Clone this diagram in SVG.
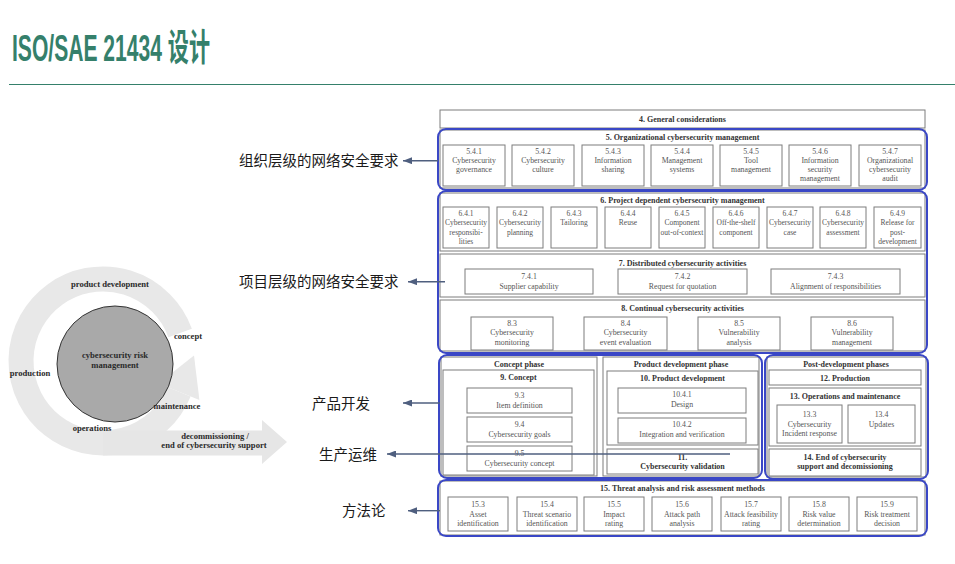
<svg xmlns="http://www.w3.org/2000/svg" width="955" height="564" viewBox="0 0 955 564">
<defs>
<style>
.title{font-family:"Liberation Sans","Noto Sans CJK SC",sans-serif;font-weight:bold;font-size:37px;fill:#35806b}
.lt{font-family:"Liberation Serif",serif;font-weight:bold;font-size:8.6px;fill:#2a2a2a;text-anchor:middle}
.g{fill:#fff;stroke:#7d7d7d;stroke-width:1}
.bl{fill:none;stroke:#3a47c6;stroke-width:2}
.st{font-family:"Liberation Serif",serif;font-weight:bold;font-size:8px;fill:#333;text-anchor:middle}
.bt{font-family:"Liberation Serif",serif;font-size:7.8px;fill:#555;text-anchor:middle}
.bs{font-family:"Liberation Serif",serif;font-size:7.5px;fill:#555;text-anchor:middle}
.cn{font-family:"Noto Sans CJK SC",sans-serif;font-size:14.5px;fill:#1a1a1a}
.arr{stroke:#4f5f7f;stroke-width:1.4;fill:none;marker-end:url(#ah)}
</style>
<marker id="ah" markerUnits="userSpaceOnUse" markerWidth="9" markerHeight="7" refX="9" refY="3.5" orient="auto"><path d="M0,0 L9,3.5 L0,7 z" fill="#4f5f7f"/></marker>
</defs>
<rect width="955" height="564" fill="#fff"/>
<g id="header">
<text class="title" x="12" y="61" textLength="198" lengthAdjust="spacingAndGlyphs">ISO/SAE 21434 设计</text>
<line x1="9" y1="84.5" x2="955" y2="84.5" stroke="#35806b" stroke-width="1.2"/>
</g>
<g id="lifecycle">
<path d="M180.1,333 A82,82 0 1 0 179,391.7" stroke="#e8e8e8" stroke-width="25" fill="none"/>
<polygon points="199.4,399.9 158.6,383.5 194,355.5" fill="#e8e8e8"/>
<polygon points="103,430.5 262,430.5 262,420 287,442 262,464 262,455.5 103,455.5" fill="#e6e6e6"/>
<circle cx="115" cy="364" r="58" fill="#a9a9a9" stroke="#333" stroke-width="1"/>
<text class="lt" x="115" y="358">cybersecurity risk</text>
<text class="lt" x="115" y="367.5">management</text>
<text class="lt" x="110" y="287">product development</text>
<text class="lt" x="188" y="339">concept</text>
<text class="lt" x="30" y="376">production</text>
<text class="lt" x="177" y="409">maintenance</text>
<text class="lt" x="92" y="431">operations</text>
<text class="lt" x="215" y="439">decommissioning /</text>
<text class="lt" x="214" y="447.5">end of cybersecurity support</text>
</g>
<g id="s4"><rect class="g" x="440" y="110" width="485" height="18"/><text class="st" x="682.5" y="122">4. General considerations</text></g>
<g id="s5">
<rect class="g" x="440" y="130" width="485" height="58"/>
<rect class="bl" x="438" y="129" width="489" height="61" rx="8"/>
<text class="st" x="682.5" y="140">5. Organizational cybersecurity management</text>
<g id="b541"><rect class="g" x="443" y="145" width="62" height="41"/><text class="bt" x="474" y="153.5">5.4.1<tspan x="474" dy="9">Cybersecurity</tspan><tspan x="474" dy="9">governance</tspan></text></g>
<g id="b542"><rect class="g" x="512" y="145" width="62" height="41"/><text class="bt" x="543" y="153.5">5.4.2<tspan x="543" dy="9">Cybersecurity</tspan><tspan x="543" dy="9">culture</tspan></text></g>
<g id="b543"><rect class="g" x="582" y="145" width="62" height="41"/><text class="bt" x="613" y="153.5">5.4.3<tspan x="613" dy="9">Information</tspan><tspan x="613" dy="9">sharing</tspan></text></g>
<g id="b544"><rect class="g" x="651" y="145" width="62" height="41"/><text class="bt" x="682" y="153.5">5.4.4<tspan x="682" dy="9">Management</tspan><tspan x="682" dy="9">systems</tspan></text></g>
<g id="b545"><rect class="g" x="720" y="145" width="62" height="41"/><text class="bt" x="751" y="153.5">5.4.5<tspan x="751" dy="9">Tool</tspan><tspan x="751" dy="9">management</tspan></text></g>
<g id="b546"><rect class="g" x="789" y="145" width="62" height="41"/><text class="bt" x="820" y="153.5">5.4.6<tspan x="820" dy="9">Information</tspan><tspan x="820" dy="9">security</tspan><tspan x="820" dy="9">management</tspan></text></g>
<g id="b547"><rect class="g" x="859" y="145" width="62" height="41"/><text class="bt" x="890" y="153.5">5.4.7<tspan x="890" dy="9">Organizational</tspan><tspan x="890" dy="9">cybersecurity</tspan><tspan x="890" dy="9">audit</tspan></text></g>
</g>
<g id="s678">
<rect class="g" x="440" y="193" width="485" height="58"/>
<rect class="g" x="440" y="254" width="485" height="43"/>
<rect class="g" x="440" y="300" width="485" height="51"/>
<rect class="bl" x="438" y="191" width="489" height="162" rx="8"/>
<text class="st" x="682.5" y="203">6. Project dependent cybersecurity management</text>
<g id="b641"><rect class="g" x="443" y="207" width="46" height="41"/><text class="bs" x="466" y="216">6.4.1<tspan x="466" dy="9.3">Cybersecurity</tspan><tspan x="466" dy="9.3">responsibi-</tspan><tspan x="466" dy="9.3">lities</tspan></text></g>
<g id="b642"><rect class="g" x="497" y="207" width="46" height="41"/><text class="bs" x="520" y="216">6.4.2<tspan x="520" dy="9.3">Cybersecurity</tspan><tspan x="520" dy="9.3">planning</tspan></text></g>
<g id="b643"><rect class="g" x="551" y="207" width="46" height="41"/><text class="bs" x="574" y="216">6.4.3<tspan x="574" dy="9.3">Tailoring</tspan></text></g>
<g id="b644"><rect class="g" x="605" y="207" width="46" height="41"/><text class="bs" x="628" y="216">6.4.4<tspan x="628" dy="9.3">Reuse</tspan></text></g>
<g id="b645"><rect class="g" x="659" y="207" width="46" height="41"/><text class="bs" x="682" y="216">6.4.5<tspan x="682" dy="9.3">Component</tspan><tspan x="682" dy="9.3">out-of-context</tspan></text></g>
<g id="b646"><rect class="g" x="713" y="207" width="46" height="41"/><text class="bs" x="736" y="216">6.4.6<tspan x="736" dy="9.3">Off-the-shelf</tspan><tspan x="736" dy="9.3">component</tspan></text></g>
<g id="b647"><rect class="g" x="767" y="207" width="46" height="41"/><text class="bs" x="790" y="216">6.4.7<tspan x="790" dy="9.3">Cybersecurity</tspan><tspan x="790" dy="9.3">case</tspan></text></g>
<g id="b648"><rect class="g" x="820" y="207" width="46" height="41"/><text class="bs" x="843" y="216">6.4.8<tspan x="843" dy="9.3">Cybersecurity</tspan><tspan x="843" dy="9.3">assessment</tspan></text></g>
<g id="b649"><rect class="g" x="874" y="207" width="47" height="41"/><text class="bs" x="897.5" y="216">6.4.9<tspan x="897.5" dy="9.3">Release for</tspan><tspan x="897.5" dy="9.3">post-</tspan><tspan x="897.5" dy="9.3">development</tspan></text></g>
<text class="st" x="682.5" y="265.5">7. Distributed cybersecurity activities</text>
<g id="b741"><rect class="g" x="465" y="269" width="128" height="25"/><text class="bt" x="529" y="278.5">7.4.1<tspan x="529" dy="10">Supplier capability</tspan></text></g>
<g id="b742"><rect class="g" x="618" y="269" width="129" height="25"/><text class="bt" x="682.5" y="278.5">7.4.2<tspan x="682.5" dy="10">Request for quotation</tspan></text></g>
<g id="b743"><rect class="g" x="771" y="269" width="129" height="25"/><text class="bt" x="835.5" y="278.5">7.4.3<tspan x="835.5" dy="10">Alignment of responsibilities</tspan></text></g>
<text class="st" x="682.5" y="310.5">8. Continual cybersecurity activities</text>
<g id="b83"><rect class="g" x="471" y="317" width="82" height="33"/><text class="bt" x="512" y="325.5">8.3<tspan x="512" dy="9.5">Cybersecurity</tspan><tspan x="512" dy="9.5">monitoring</tspan></text></g>
<g id="b84"><rect class="g" x="584" y="317" width="83" height="33"/><text class="bt" x="625.5" y="325.5">8.4<tspan x="625.5" dy="9.5">Cybersecurity</tspan><tspan x="625.5" dy="9.5">event evaluation</tspan></text></g>
<g id="b85"><rect class="g" x="698" y="317" width="82" height="33"/><text class="bt" x="739" y="325.5">8.5<tspan x="739" dy="9.5">Vulnerability</tspan><tspan x="739" dy="9.5">analysis</tspan></text></g>
<g id="b86"><rect class="g" x="811" y="317" width="82" height="33"/><text class="bt" x="852" y="325.5">8.6<tspan x="852" dy="9.5">Vulnerability</tspan><tspan x="852" dy="9.5">management</tspan></text></g>
</g>
<g id="concept">
<rect class="g" x="441" y="357" width="156" height="119"/>
<text class="st" x="519" y="366.5">Concept phase</text>
<rect class="g" x="443" y="370" width="151" height="105"/>
<text class="st" x="518.5" y="380">9. Concept</text>
<g id="b93"><rect class="g" x="467" y="388" width="105" height="25"/><text class="bt" x="519.5" y="398">9.3<tspan x="519.5" dy="9.5">Item definition</tspan></text></g>
<g id="b94"><rect class="g" x="467" y="417" width="105" height="25"/><text class="bt" x="519.5" y="427">9.4<tspan x="519.5" dy="9.5">Cybersecurity goals</tspan></text></g>
<g id="b95"><rect class="g" x="467" y="446" width="105" height="25"/><text class="bt" x="519.5" y="456">9.5<tspan x="519.5" dy="9.5">Cybersecurity concept</tspan></text></g>
</g>
<g id="productdev">
<rect class="g" x="603" y="357" width="156" height="119"/>
<text class="st" x="681" y="366.5">Product development phase</text>
<rect class="g" x="607" y="371" width="151" height="74"/>
<text class="st" x="682.5" y="380.5">10. Product development</text>
<g id="b1041"><rect class="g" x="618" y="388" width="128" height="25"/><text class="bt" x="682" y="397">10.4.1<tspan x="682" dy="10">Design</tspan></text></g>
<g id="b1042"><rect class="g" x="618" y="418" width="128" height="25"/><text class="bt" x="682" y="427">10.4.2<tspan x="682" dy="10">Integration and verification</tspan></text></g>
<g id="b11"><rect class="g" x="607" y="449" width="151" height="25"/><text class="st" x="682.5" y="460">11.<tspan x="682.5" dy="9">Cybersecurity validation</tspan></text></g>
</g>
<rect class="bl" x="439" y="355" width="323" height="123" rx="8"/>
<g id="postdev">
<rect class="g" x="767" y="357" width="159" height="120"/>
<text class="st" x="846" y="366.5">Post-development phases</text>
<g id="b12"><rect class="g" x="769" y="370" width="152" height="15"/><text class="st" x="845" y="380.5">12. Production</text></g>
<rect class="g" x="769" y="388" width="152" height="58"/>
<text class="st" x="845" y="399">13. Operations and maintenance</text>
<g id="b133"><rect class="g" x="777" y="405" width="65" height="38"/><text class="bt" x="809.5" y="417">13.3<tspan x="809.5" dy="9.5">Cybersecurity</tspan><tspan x="809.5" dy="9.5">Incident response</tspan></text></g>
<g id="b134"><rect class="g" x="848" y="405" width="67" height="38"/><text class="bt" x="881.5" y="417">13.4<tspan x="881.5" dy="9.5">Updates</tspan></text></g>
<g id="b14"><rect class="g" x="769" y="449" width="152" height="27"/><text class="st" x="845" y="460">14. End of cybersecurity<tspan x="845" dy="9">support and decomissioning</tspan></text></g>
<rect class="bl" x="765" y="355" width="163" height="124" rx="8"/>
</g>
<g id="s15">
<rect class="g" x="440" y="481" width="485" height="54"/>
<rect class="bl" x="438" y="480" width="489" height="56" rx="8"/>
<text class="st" x="682.5" y="491">15. Threat analysis and risk assessment methods</text>
<g id="b153"><rect class="g" x="448" y="497" width="60" height="34"/><text class="bt" x="478" y="507">15.3<tspan x="478" dy="9.5">Asset</tspan><tspan x="478" dy="9.5">identification</tspan></text></g>
<g id="b154"><rect class="g" x="517" y="497" width="60" height="34"/><text class="bt" x="547" y="507">15.4<tspan x="547" dy="9.5">Threat scenario</tspan><tspan x="547" dy="9.5">identification</tspan></text></g>
<g id="b155"><rect class="g" x="584" y="497" width="60" height="34"/><text class="bt" x="614" y="507">15.5<tspan x="614" dy="9.5">Impact</tspan><tspan x="614" dy="9.5">rating</tspan></text></g>
<g id="b156"><rect class="g" x="652" y="497" width="60" height="34"/><text class="bt" x="682" y="507">15.6<tspan x="682" dy="9.5">Attack path</tspan><tspan x="682" dy="9.5">analysis</tspan></text></g>
<g id="b157"><rect class="g" x="721" y="497" width="60" height="34"/><text class="bt" x="751" y="507">15.7<tspan x="751" dy="9.5">Attack feasibility</tspan><tspan x="751" dy="9.5">rating</tspan></text></g>
<g id="b158"><rect class="g" x="789" y="497" width="60" height="34"/><text class="bt" x="819" y="507">15.8<tspan x="819" dy="9.5">Risk value</tspan><tspan x="819" dy="9.5">determination</tspan></text></g>
<g id="b159"><rect class="g" x="857" y="497" width="60" height="34"/><text class="bt" x="887" y="507">15.9<tspan x="887" dy="9.5">Risk treatment</tspan><tspan x="887" dy="9.5">decision</tspan></text></g>
</g>
<g id="labels">
<text class="cn" x="239" y="166">组织层级的网络安全要求</text>
<text class="cn" x="239" y="287">项目层级的网络安全要求</text>
<text class="cn" x="312" y="408.5">产品开发</text>
<text class="cn" x="319" y="459.5">生产运维</text>
<text class="cn" x="342" y="516">方法论</text>
</g>
<g id="connectors">
<line class="arr" x1="438" y1="160.7" x2="403" y2="160.7"/>
<line class="arr" x1="445" y1="281.7" x2="408" y2="281.7"/>
<line class="arr" x1="440" y1="403" x2="403" y2="403"/>
<line class="arr" x1="730" y1="454" x2="387" y2="454"/>
<line class="arr" x1="440" y1="510.7" x2="408" y2="510.7"/>
</g>
</svg>
